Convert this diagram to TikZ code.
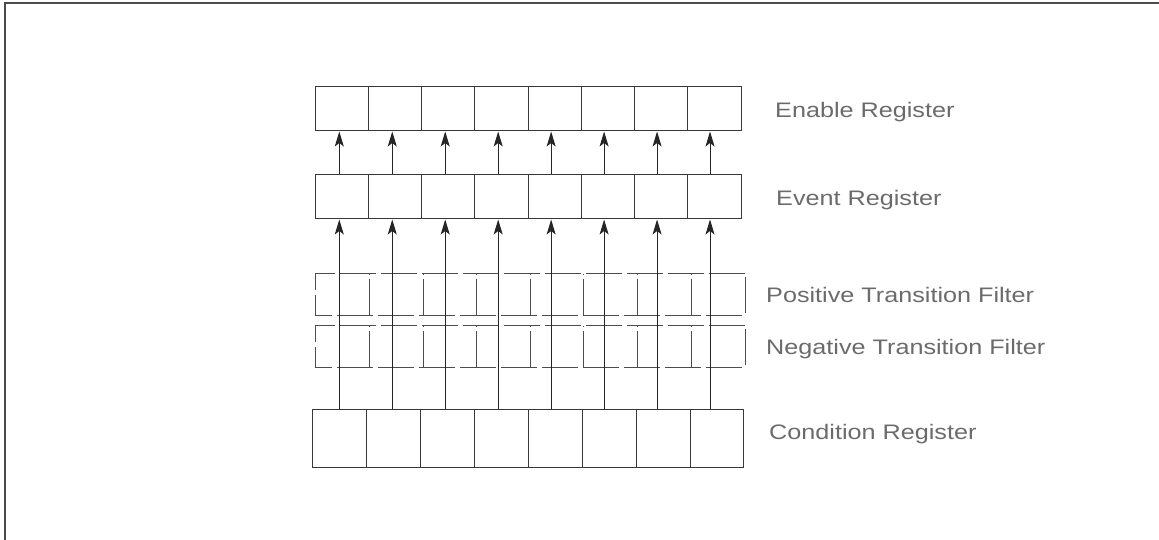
\documentclass[tikz,border=0pt]{standalone}
\usepackage{fontspec}
\newfontfamily\lblfont[FakeStretch=1.2]{Liberation Sans}
\usetikzlibrary{arrows.meta,calc}
\tikzset{
  ln/.style={draw=black!78, line width=1pt},
  cellA/.style={ln, rectangle, inner sep=0pt, minimum height=44pt, minimum width=53.25pt},
  cellC/.style={ln, rectangle, inner sep=0pt, minimum height=58pt, minimum width=53.9pt},
  filtbox/.style={rectangle, inner sep=0pt, minimum width=429pt, minimum height=41pt},
  filt/.style={draw=black!70, line width=1pt, dash pattern=on 36pt off 5pt},
  arr/.style={draw=black!85, line width=1pt, -{Stealth[length=15pt,width=9pt,inset=3.5pt]}},
  lbl/.style={anchor=base west, inner sep=0pt, text=black!58, font=\lblfont\fontsize{21}{24}\selectfont},
  frame/.style={draw=black!70, line width=1.2pt}
}
\begin{document}
\begin{tikzpicture}[x=1pt,y=-1pt]
\useasboundingbox (0,0) rectangle (1159,540);
\draw[frame] (5,540) -- (5,3) -- (1159,3);

% registers
\foreach \i in {1,...,8} {
  \pgfmathsetmacro{\xa}{315+26.625+53.25*(\i-1)}
  \pgfmathsetmacro{\xc}{312.7+26.95+53.9*(\i-1)}
  \pgfmathsetmacro{\xr}{339.3+52.96*(\i-1)}
  \node[cellA] (en\i) at (\xa,109) {};
  \node[cellA] (ev\i) at (\xa,197) {};
  \node[cellC] (co\i) at (\xc,438) {};
  \coordinate (a\i) at (\xr,0);
}

% filters
\node[filtbox] (pf) at (530.5,294.5) {};
\node[filtbox] (nf) at (530.5,346.5) {};
\foreach \f in {pf,nf} {
  \draw[filt] (\f.north east) -- (\f.north west) -- (\f.south west) -- (\f.south east) -- cycle;
  \foreach \k in {1,...,7} {
    \draw[filt] ($(\f.south west)+(53.625*\k,0)$) -- ($(\f.north west)+(53.625*\k,0)$);
  }
}

% arrows
\foreach \i in {1,...,8} {
  \draw[arr] (a\i |- ev\i.north) -- (a\i |- en\i.south);
  \draw[arr] (a\i |- co\i.north) -- (a\i |- ev\i.south);
}

% labels
\node[lbl] (lEn) at (775,118) {Enable Register};
\node[lbl] (lEv) at (776,205.5) {Event Register};
\node[lbl] (lPf) at (766,302.5) {Positive Transition Filter};
\node[lbl] (lNf) at (766,354) {Negative Transition Filter};
\node[lbl] (lCo) at (769,439) {Condition Register};
\end{tikzpicture}
\end{document}
